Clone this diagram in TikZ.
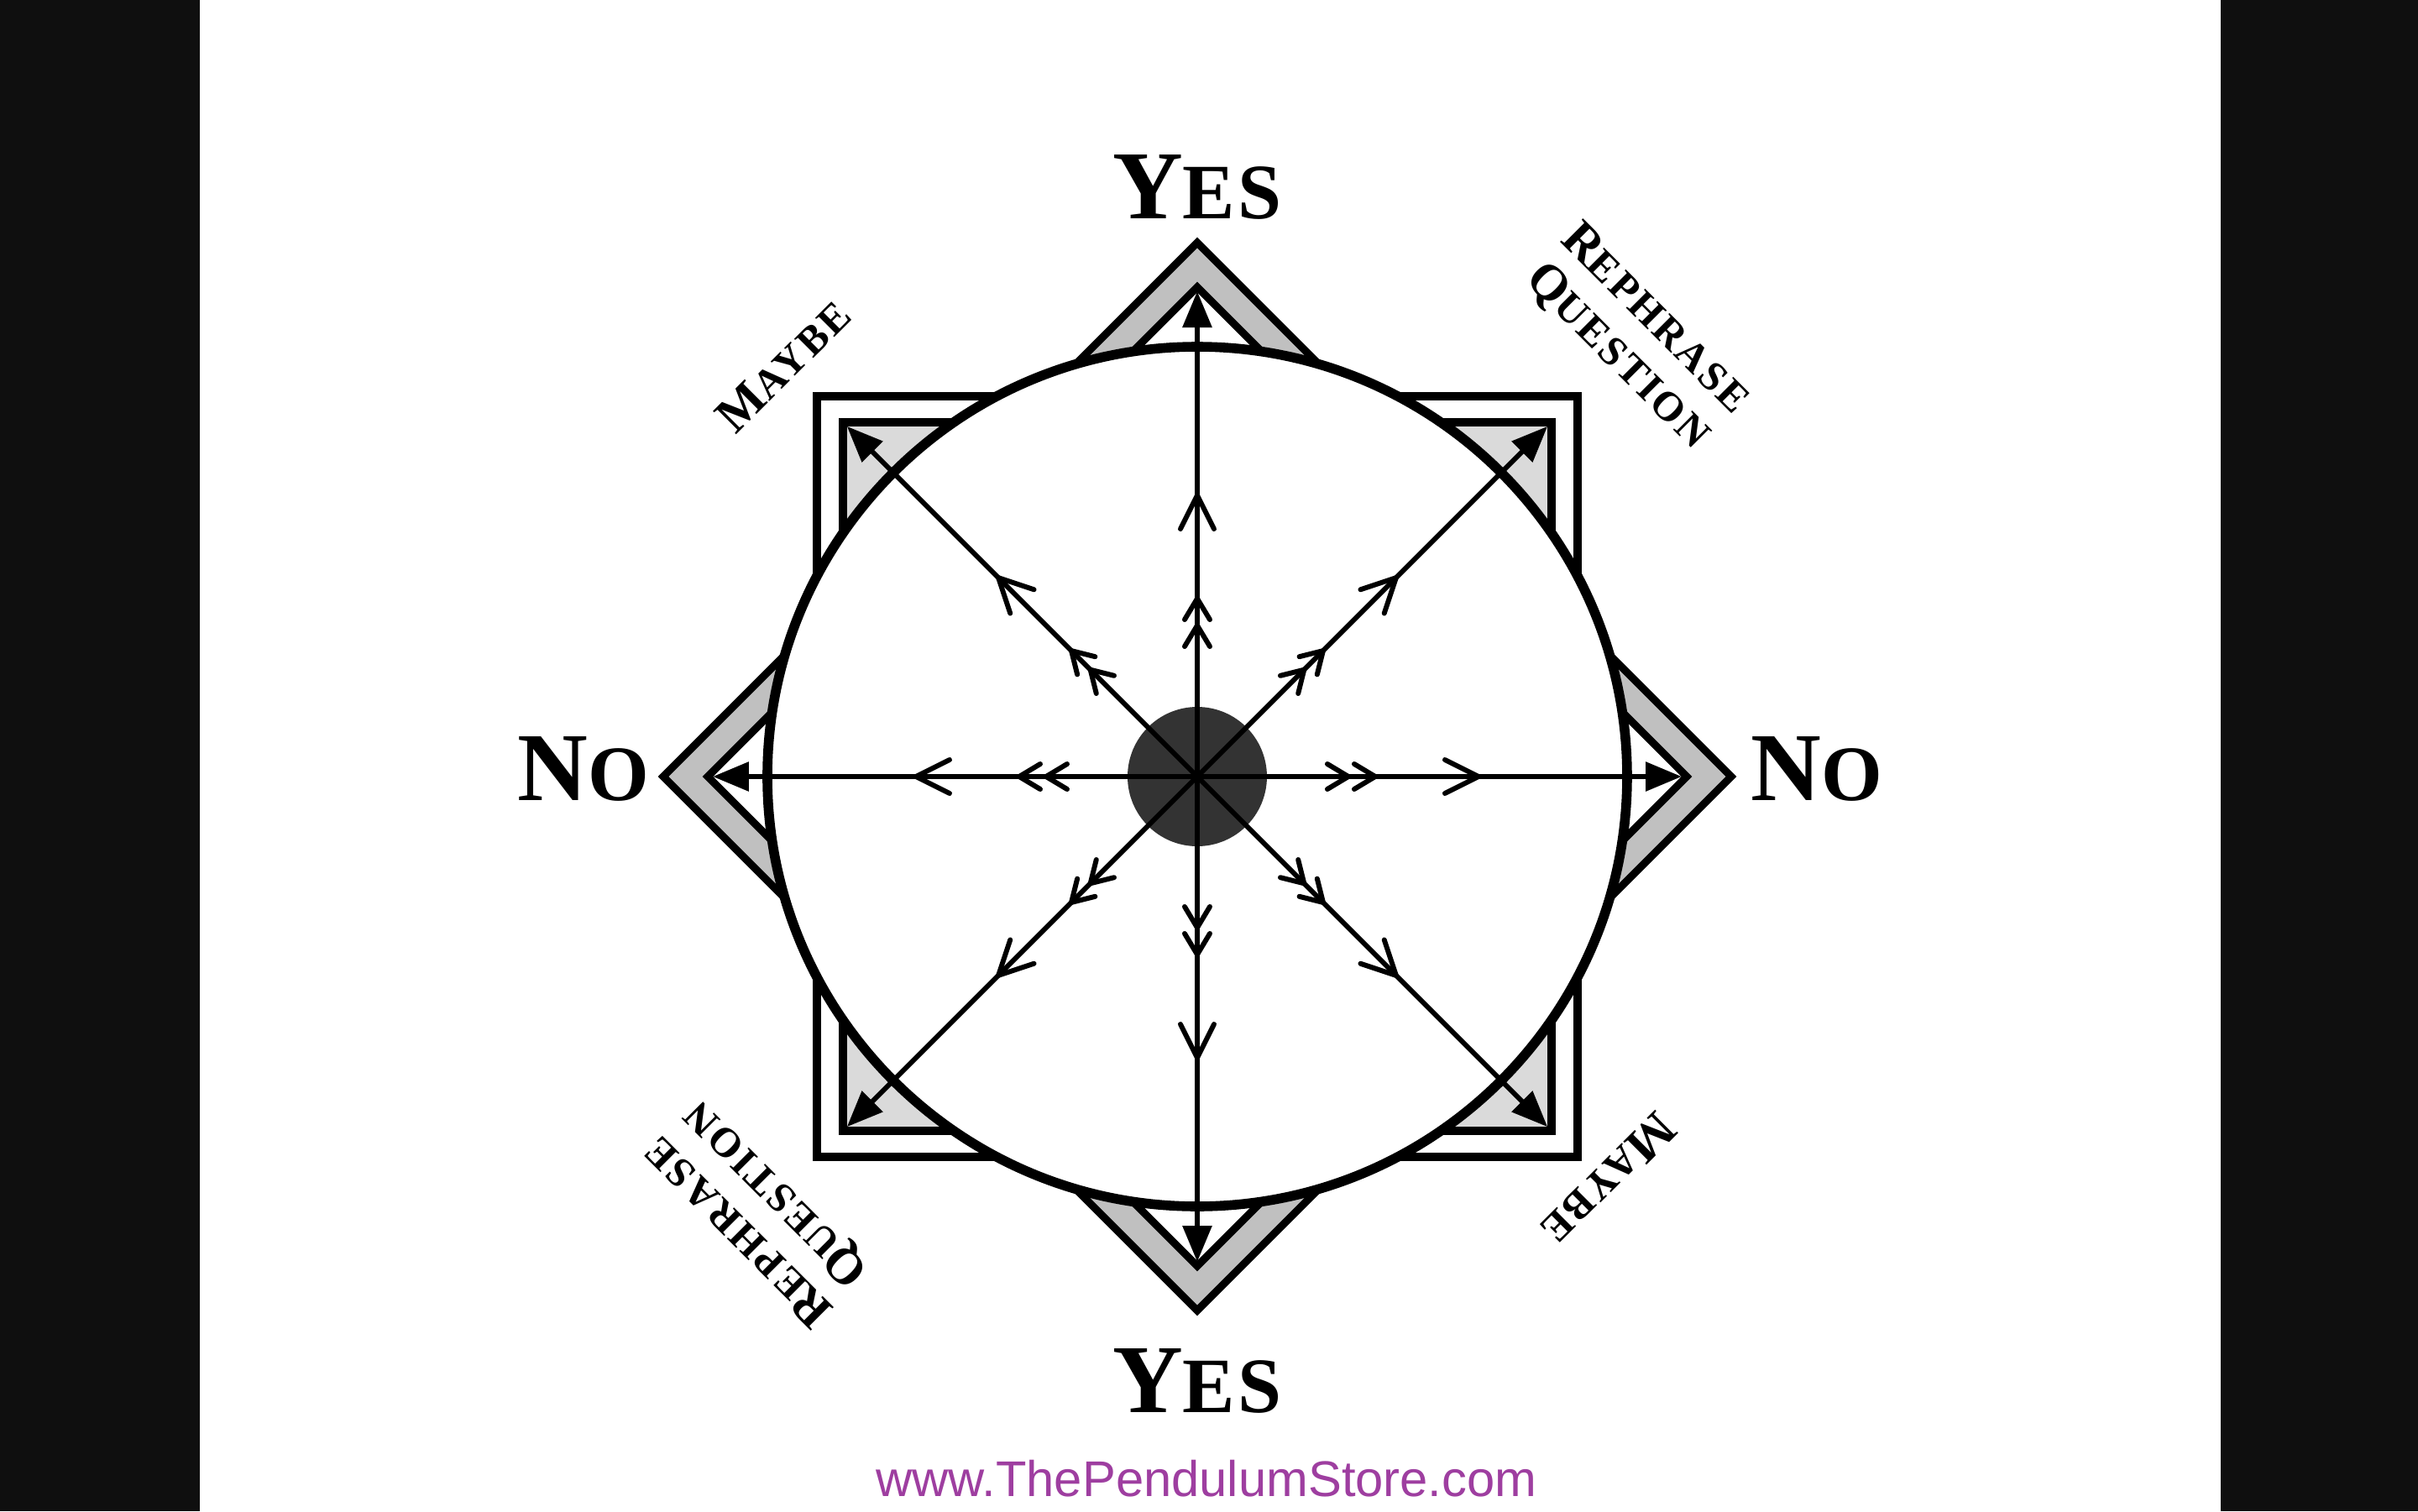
\documentclass[tikz,border=0pt]{standalone}
\usepackage{fontspec}
\setmainfont{Liberation Serif}
\newfontfamily\labfont[LetterSpace=6]{Liberation Serif}
\newfontfamily\bigfont[LetterSpace=4]{Liberation Serif}
\newfontfamily\webfont{Liberation Sans}
\usetikzlibrary{arrows.meta}
\definecolor{diagray}{HTML}{C0C0C0}
\definecolor{sqgray}{HTML}{DADADA}
\definecolor{dotgray}{HTML}{333333}
\definecolor{barblack}{HTML}{0F0F0F}
\definecolor{webpurple}{RGB}{158,62,160}
\newcommand\twosize[4]{{\fontsize{#1}{#1}\selectfont #3}{\fontsize{#2}{#2}\selectfont #4}}
\tikzset{
  outline/.style={draw=black, line width=2.6pt, line join=miter},
  rim/.style={draw=black, line width=3.3pt},
  ray/.style={draw=black, line width=1.7pt, -{Triangle[length=0.43cm, width=0.34cm]}},
  chev/.style={draw=black, line width=1.7pt, line cap=round, line join=miter},
  bigword/.style={font=\bigfont\bfseries, anchor=base, inner sep=0pt},
  smallword/.style={font=\labfont\bfseries\fontsize{14}{18}\selectfont, align=center, inner sep=0pt}
}
\begin{document}
\begin{tikzpicture}
\useasboundingbox (-14.26,-8.75) rectangle (14.54,9.25);
\fill[white] (-14.26,-8.75) rectangle (14.54,9.25);
\fill[barblack] (-14.26,-8.75) rectangle (-11.88,9.25);
\fill[barblack] (12.19,-8.75) rectangle (14.54,9.25);

% frame shapes
\path[outline, fill=white] (-4.53,-4.53) rectangle (4.53,4.53);
\path[outline, fill=diagray] (0,6.36) -- (6.36,0) -- (0,-6.36) -- (-6.36,0) -- cycle;
\path[outline, fill=sqgray] (-4.22,-4.22) rectangle (4.22,4.22);
\path[outline, fill=white] (0,5.83) -- (5.83,0) -- (0,-5.83) -- (-5.83,0) -- cycle;

% disc
\path[rim, fill=white] (0,0) circle (5.12);
\node[circle, fill=dotgray, minimum size=1.66cm, inner sep=0pt] (dot) at (0,0) {};
\coordinate (c) at (0,0);

% rays
\foreach \a/\r in {0/5.77, 90/5.78, 180/5.77, 270/5.78, 45/5.90, 135/5.90, 225/5.90, 315/5.90}{
  \coordinate (tip\a) at (\a:\r);
  \draw[ray] (c) -- (tip\a);
}

% chevrons
\foreach \a in {0,45,...,315}{
  \begin{scope}[rotate=\a]
    \draw[chev] (2.95,0.20) -- (3.35,0) -- (2.95,-0.20);
    \draw[chev] (1.87,0.15) -- (2.12,0) -- (1.87,-0.15);
    \draw[chev] (1.55,0.15) -- (1.80,0) -- (1.55,-0.15);
  \end{scope}
}

% labels
\node[bigword] (yestop) at (0,6.65) {\twosize{33}{26.6}{Y}{ES}};
\node[bigword] (yesbot) at (0,-7.57) {\twosize{33}{26.6}{Y}{ES}};
\node[bigword] (noleft) at (-7.31,-0.28) {\twosize{33}{26.6}{N}{O}};
\node[bigword] (noright) at (7.38,-0.28) {\twosize{33}{26.6}{N}{O}};

\node[smallword, rotate=45] (maybeul) at (-4.93,4.90) {\twosize{17}{14}{M}{AYBE}};
\node[smallword, rotate=225] (maybelr) at (4.90,-4.80) {\twosize{17}{14}{M}{AYBE}};
\node[smallword, rotate=-45] (rephur) at (5.23,5.22) {\twosize{17}{14}{R}{EPHRASE}\\\twosize{17}{14}{Q}{UESTION}};
\node[smallword, rotate=135] (rephll) at (-5.23,-5.18) {\twosize{17}{14}{R}{EPHRASE}\\\twosize{17}{14}{Q}{UESTION}};

\node[font=\webfont\fontsize{17}{17}\selectfont, text=webpurple, anchor=base, inner sep=0pt] (web) at (0.11,-8.57) {www.ThePendulumStore.com};
\end{tikzpicture}
\end{document}
